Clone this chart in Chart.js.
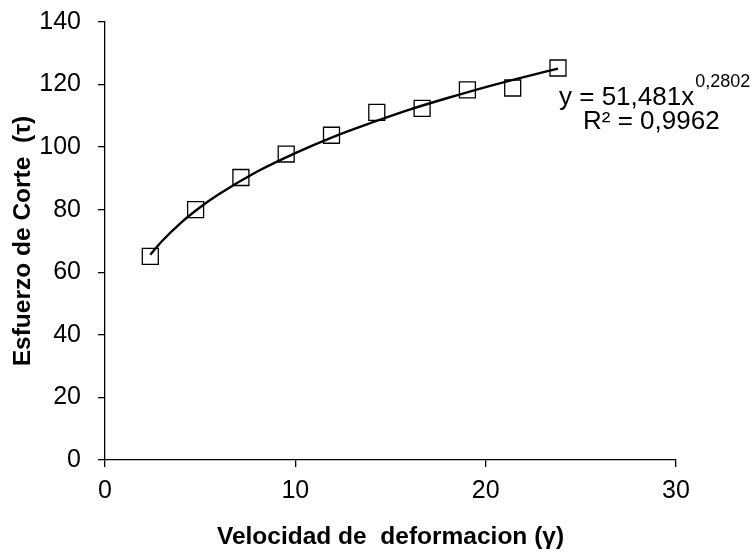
<!DOCTYPE html>
<html>
<head>
<meta charset="utf-8">
<script src="https://cdn.jsdelivr.net/npm/chart.js@4.4.0/dist/chart.umd.min.js"></script>
<style>
  html,body{margin:0;padding:0;background:#fff;}
  #wrap{width:754px;height:557px;}
</style>
</head>
<body>
<div id="wrap"><canvas id="c" width="754" height="557"></canvas></div>
<script>
// measured points (velocidad de deformacion vs esfuerzo de corte)
const rateX   = [2.38, 4.76, 7.14, 9.52, 11.9, 14.28, 16.66, 19.04, 21.42, 23.8];
const stressY = [65.1, 80.0, 90.3, 97.8, 103.8, 111.1, 112.4, 118.3, 118.9, 125.3];

// trend curve
const trendX = [2.38, 3, 4, 5, 6, 8, 10, 12, 14, 16, 18, 20, 22, 23.8];
const trendY = [65.6, 70.0, 75.9, 80.8, 85.0, 92.2, 98.1, 103.3, 107.8, 112.0, 115.7, 119.2, 122.4, 125.1];

const eqMain = 'y = 51,481x';
const eqExp  = '0,2802';
const eqR2   = 'R² = 0,9962';

const FONT = 'Liberation Sans, Arial, sans-serif';

const pts   = rateX.map((x,i)=>({x:x, y:stressY[i]}));
const trend = trendX.map((x,i)=>({x:x, y:trendY[i]}));

// equation label, placed next to the last point
const eqPlug = {
  id:'eqLabel',
  afterDraw(chart){
    const ctx = chart.ctx;
    ctx.save();
    ctx.fillStyle = '#000';
    ctx.textBaseline = 'alphabetic';
    ctx.textAlign = 'left';
    ctx.font = '26px ' + FONT;
    const w = ctx.measureText(eqMain).width;
    const x0 = 559;
    ctx.fillText(eqMain, x0, 105);
    ctx.font = '18px ' + FONT;
    ctx.fillText(eqExp, x0 + w + 1, 87);
    ctx.font = '26px ' + FONT;
    ctx.fillText(eqR2, 583, 129);
    ctx.restore();
  }
};

new Chart(document.getElementById('c'), {
  type:'scatter',
  plugins:[eqPlug],
  data:{
    datasets:[
      {label:'trend', data:trend, showLine:true, borderColor:'#000', borderWidth:2.4,
       pointRadius:0, cubicInterpolationMode:'monotone', fill:false, order:1},
      {label:'datos', data:pts, pointStyle:'rect', pointRadius:11.3,
       pointBackgroundColor:'rgba(0,0,0,0)', pointBorderColor:'#000',
       pointBorderWidth:1.3, showLine:false, order:0}
    ]
  },
  options:{
    responsive:false, animation:false, devicePixelRatio:1,
    layout:{padding:{left:0, right:78, top:22, bottom:0}},
    plugins:{legend:{display:false}, tooltip:{enabled:false}},
    scales:{
      x:{type:'linear', min:0, max:30,
         ticks:{stepSize:10, color:'#000', font:{family:FONT, size:25}, padding:9},
         grid:{drawOnChartArea:false, drawTicks:true, tickLength:7, color:'#000', lineWidth:1.3},
         border:{display:true, color:'#000', width:1.3},
         title:{display:true, text:'Velocidad de  deformacion (γ)', color:'#000',
                font:{family:FONT, size:24.5, weight:'bold'}, padding:{top:0, bottom:5}},
         afterFit(s){ s.height = 97; s.paddingLeft = 0; s.paddingRight = 0; }},
      y:{type:'linear', min:0, max:140,
         ticks:{stepSize:20, color:'#000', font:{family:FONT, size:25}, padding:17},
         grid:{drawOnChartArea:false, drawTicks:true, tickLength:7, color:'#000', lineWidth:1.3},
         border:{display:true, color:'#000', width:1.3},
         title:{display:true, text:'Esfuerzo de Corte  (τ)', color:'#000',
                font:{family:FONT, size:24.5, weight:'bold'}, padding:{top:9, bottom:0}},
         afterFit(s){ s.width = 105; s.paddingTop = 0; s.paddingBottom = 0; }}
    }
  }
});
</script>
</body>
</html>
